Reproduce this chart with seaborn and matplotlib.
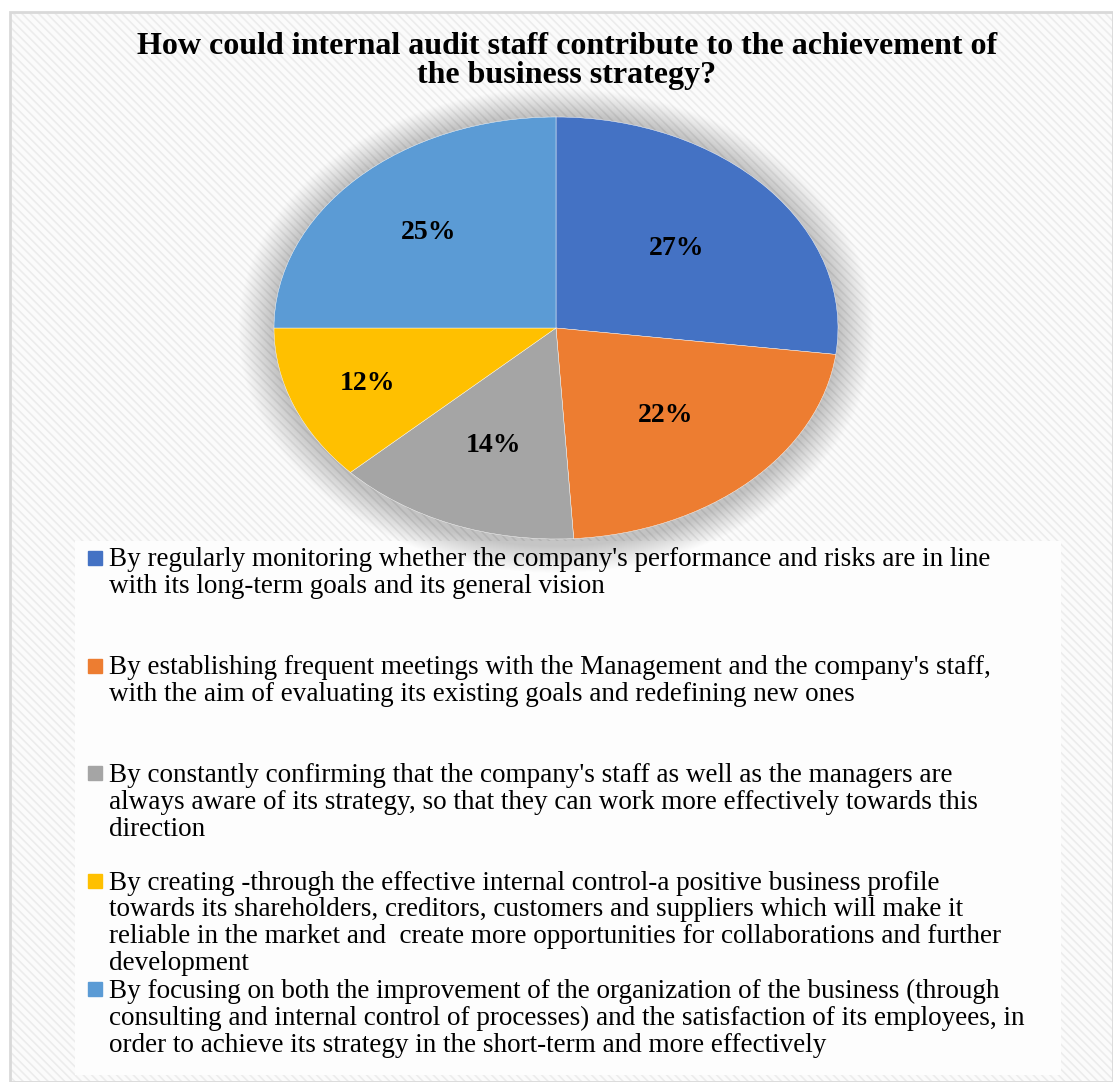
import numpy as np
import matplotlib
matplotlib.use("Agg")
import matplotlib.pyplot as plt
import seaborn as sns
from matplotlib.patches import Rectangle, Ellipse
from matplotlib.lines import Line2D

sns.set_theme(style="white")
plt.rcParams["font.family"] = ["Liberation Serif", "DejaVu Serif"]
plt.rcParams["text.color"] = "black"

# ---- data -------------------------------------------------------------
title = ("How could internal audit staff contribute to the achievement of\n"
         "the business strategy?")
answers = [
    "By regularly monitoring whether the company's performance and risks are in line\n"
    "with its long-term goals and its general vision",
    "By establishing frequent meetings with the Management and the company's staff,\n"
    "with the aim of evaluating its existing goals and redefining new ones",
    "By constantly confirming that the company's staff as well as the managers are\n"
    "always aware of its strategy, so that they can work more effectively towards this\n"
    "direction",
    "By creating -through the effective internal control-a positive business profile\n"
    "towards its shareholders, creditors, customers and suppliers which will make it\n"
    "reliable in the market and  create more opportunities for collaborations and further\n"
    "development",
    "By focusing on both the improvement of the organization of the business (through\n"
    "consulting and internal control of processes) and the satisfaction of its employees, in\n"
    "order to achieve its strategy in the short-term and more effectively",
]
shares = [27, 22, 14, 12, 25]
colors = ["#4472C4", "#ED7D31", "#A5A5A5", "#FFC000", "#5B9BD5"]
# radial position of each percentage label (fraction of the radius)
label_radius = [0.57, 0.57, 0.6, 0.72, 0.64]

# ---- figure -----------------------------------------------------------
W, H = 1113, 1082
fig = plt.figure(figsize=(W / 100, H / 100), dpi=100)
fig.patch.set_facecolor("white")


def fx(px):
    return px / W


def fy(py):
    return 1 - py / H


# striped chart-area background with a thin grey frame
plt.rcParams["hatch.linewidth"] = 1.2
fig.patches.append(Rectangle((fx(10), 0), 1 - fx(10), fy(12), transform=fig.transFigure,
                             facecolor="#fbfbfb", edgecolor="#ececec", hatch="\\\\\\\\",
                             linewidth=0, zorder=-10))
fig.patches.append(Rectangle((fx(10), 0), 1 - fx(10), fy(12), transform=fig.transFigure,
                             facecolor="none", edgecolor="#d9d9d9", linewidth=2, zorder=-9))
# legend panel
fig.patches.append(Rectangle((fx(75), fy(1075)), fx(1061 - 75), (1075 - 541) / H,
                             transform=fig.transFigure, facecolor="#fdfdfd",
                             edgecolor="none", zorder=-8))

# ---- pie ---------------------------------------------------------------
cx, cy, rx, ry = 556, 328, 282, 211
lim = 1.18
ax = fig.add_axes([fx(cx - lim * rx), fy(cy + lim * ry), 2 * lim * rx / W, 2 * lim * ry / H])
ax.set_facecolor("none")

# soft halo behind the pie
for k in range(28):
    s = 1.0 + 0.0045 * (k + 1)
    ax.add_patch(Ellipse((0, -0.012), 2 * s, 2 * s * 1.02, facecolor="#000000",
                         alpha=0.0065, edgecolor="none", zorder=0))

wedges, texts, autotexts = ax.pie(
    shares, colors=colors, startangle=90, counterclock=False,
    autopct="%d%%", pctdistance=0.6,
    wedgeprops=dict(edgecolor="white", linewidth=0.3),
    textprops=dict(fontsize=20, fontweight="bold", color="black"),
)
for w, t, r in zip(wedges, autotexts, label_radius):
    w.set_zorder(2)
    t.set_zorder(3)
    mid = np.deg2rad((w.theta1 + w.theta2) / 2)
    t.set_position((r * np.cos(mid), r * np.sin(mid)))
ax.set_aspect("auto")
ax.set_xlim(-lim, lim)
ax.set_ylim(-lim, lim)
ax.axis("off")

# ---- title -------------------------------------------------------------
fig.text(fx(567), fy(32), title, ha="center", va="top", fontsize=23,
         fontweight="bold", linespacing=1.0, color="black")

# ---- legend -------------------------------------------------------------
max_lines = max(a.count("\n") + 1 for a in answers)
labels = [a + "\n" * (max_lines - a.count("\n") - 1) if i < len(answers) - 1 else a
          for i, a in enumerate(answers)]
handles = [Line2D([], [], marker="s", linestyle="none", markersize=10,
                  markerfacecolor=c, markeredgecolor=c) for c in colors]
leg = fig.legend(handles, labels, loc="upper left",
                 bbox_to_anchor=(fx(88), fy(547)), frameon=False,
                 fontsize=19.5, borderpad=0, borderaxespad=0, handlelength=0.55,
                 handleheight=1.0, handletextpad=0.24, labelspacing=0.08)
for t in leg.get_texts():
    t.set_linespacing(1.1)
    t.set_color("black")
for col in leg._legend_handle_box.get_children():
    for item in col.get_children():
        item.align = "top"

fig.savefig("out.png", dpi=100, facecolor=fig.get_facecolor())
